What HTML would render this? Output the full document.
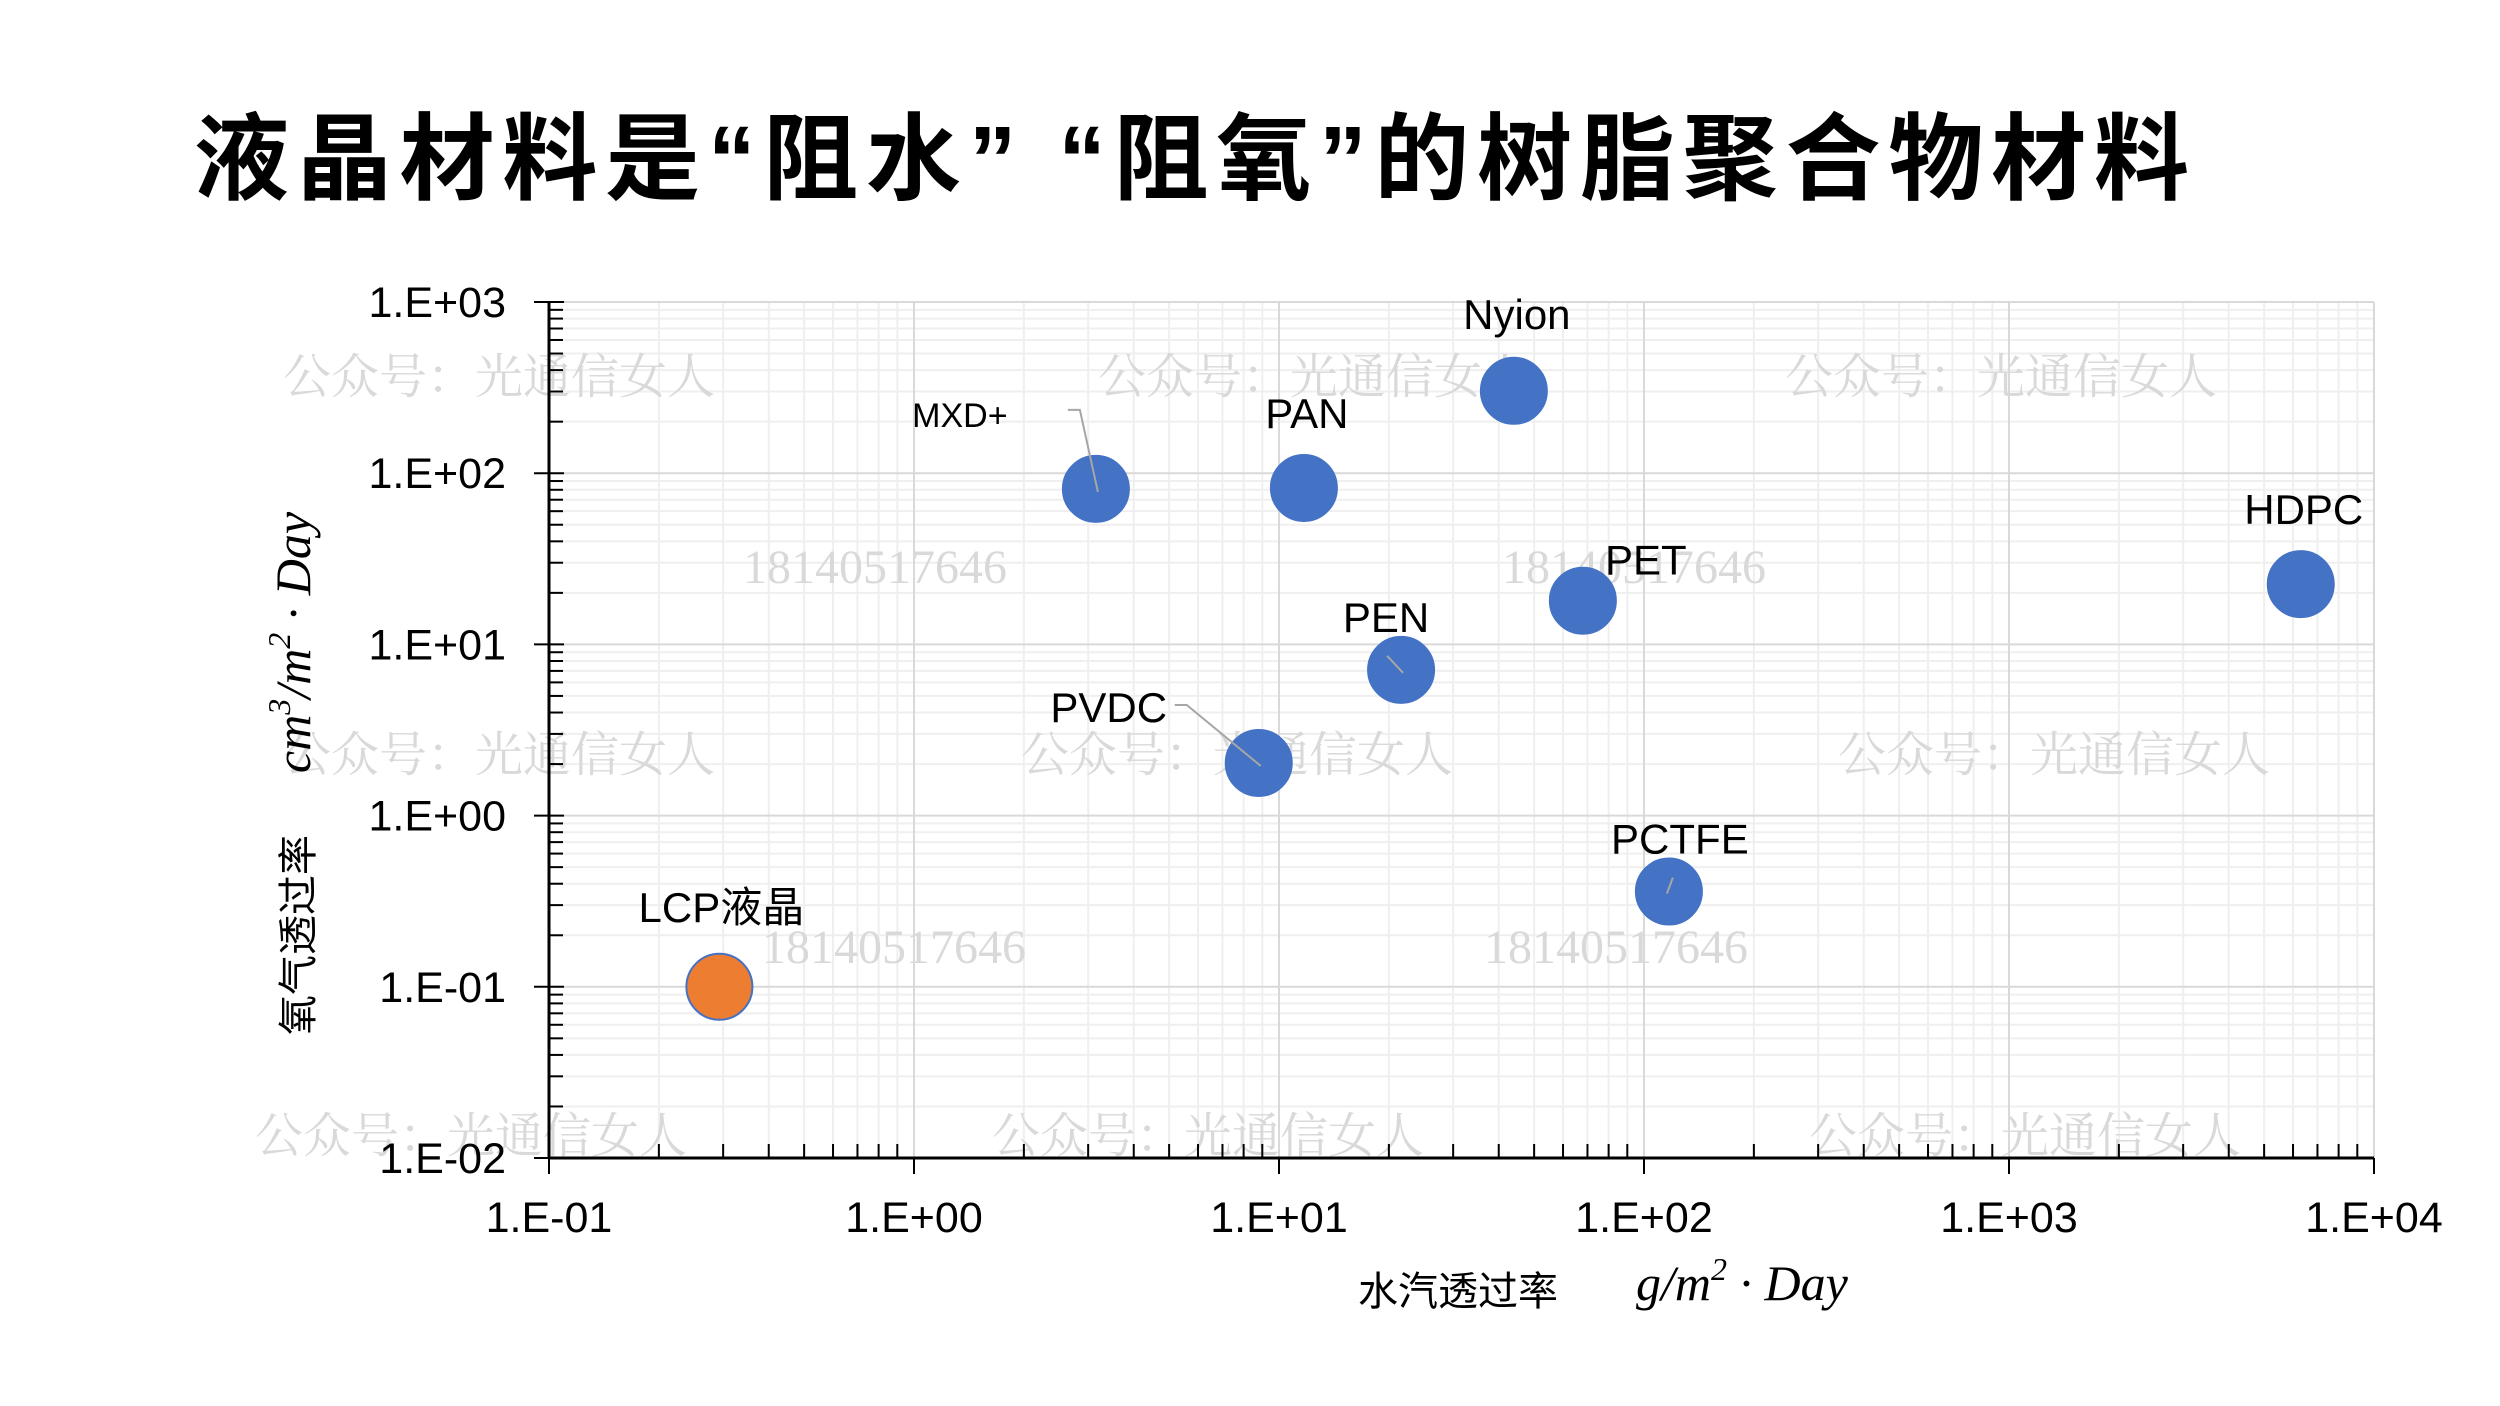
<!DOCTYPE html>
<html><head><meta charset="utf-8">
<style>
html,body{margin:0;padding:0;background:#fff;}
svg{display:block;}
</style></head>
<body>
<svg id="chart" width="2500" height="1406" viewBox="0 0 2500 1406" xmlns="http://www.w3.org/2000/svg">
<rect width="2500" height="1406" fill="#fff"/>
<text x="194" y="192" textLength="1995" lengthAdjust="spacing" font-family="'Liberation Sans','Noto Sans CJK SC',sans-serif" font-weight="bold" font-size="95" fill="#000">液晶材料是“阻水” “阻氧”的树脂聚合物材料</text>
<g id="grid"></g>
<g id="wm"></g>
<g id="axes"></g>
<g id="marks"></g>
<text x="1358" y="1305" font-family="'Liberation Sans','Noto Sans CJK SC',sans-serif" font-size="40" fill="#000">水汽透过率</text>
<text x="1636" y="1300" font-family="'Liberation Serif',serif" font-style="italic" font-size="50" fill="#000">g/m<tspan font-size="32" dy="-20">2</tspan><tspan dy="20"> · Day</tspan></text>
<g transform="translate(312,1035) rotate(-90)">
<text x="0" y="0" font-family="'Liberation Sans','Noto Sans CJK SC',sans-serif" font-size="40" fill="#000">氧气透过率</text>
<text x="262" y="-2" font-family="'Liberation Serif',serif" font-style="italic" font-size="50" fill="#000">cm<tspan font-size="32" dy="-20">3</tspan><tspan dy="20">/m</tspan><tspan font-size="32" dy="-20">2</tspan><tspan dy="20"> · Day</tspan></text>
</g>
</svg>
<script>
const names = ['Nyion','PAN','MXD+','HDPC','PET','PEN','PVDC','PCTFE','LCP液晶'];
const waterVals = [44, 11.7, 3.15, 6300, 68, 21.6, 8.8, 117, 0.293];
const oxygenVals = [303, 82, 81, 22.5, 18, 7.1, 2.03, 0.36, 0.1];
const xTickLabels = ['1.E-01','1.E+00','1.E+01','1.E+02','1.E+03','1.E+04'];
const yTickLabels = ['1.E-02','1.E-01','1.E+00','1.E+01','1.E+02','1.E+03'];

const NS='http://www.w3.org/2000/svg';
const X0=549,X1=2374,Y0=1158,Y1=302;
const xMinL=-1,xMaxL=4,yMinL=-2,yMaxL=3;
function xs(v){return X0+(Math.log10(v)-xMinL)/(xMaxL-xMinL)*(X1-X0);}
function ys(v){return Y0-(Math.log10(v)-yMinL)/(yMaxL-yMinL)*(Y0-Y1);}
function mk(tag,attrs,parent){const e=document.createElementNS(NS,tag);for(const k in attrs)e.setAttribute(k,attrs[k]);parent.appendChild(e);return e;}
const grid=document.getElementById('grid'),axes=document.getElementById('axes'),marks=document.getElementById('marks'),wm=document.getElementById('wm');

for(let d=xMinL;d<xMaxL;d++)for(let m=2;m<=9;m++){const x=xs(m*Math.pow(10,d));
 const l=mk('line',{x1:x,x2:x,y1:Y1,y2:Y0,stroke:'#efefef','stroke-width':2},grid);
 
 }
for(let d=yMinL;d<yMaxL;d++)for(let m=2;m<=9;m++){const y=ys(m*Math.pow(10,d));
 const l=mk('line',{x1:X0,x2:X1,y1:y,y2:y,stroke:'#efefef','stroke-width':2},grid);
 
 }
xTickLabels.forEach((t,i)=>{const x=xs(Math.pow(10,xMinL+i));
 const l=mk('line',{x1:x,x2:x,y1:Y1,y2:Y0,stroke:'#d9d9d9','stroke-width':2},grid);
 
 
 const tk=mk('line',{x1:x,x2:x,y1:Y0,y2:Y0+16,stroke:'#000','stroke-width':2},axes);
 
 
 const tx=mk('text',{x:x,y:1232,'text-anchor':'middle','font-family':"'Liberation Sans',sans-serif",'font-size':43,fill:'#000'},axes);
 tx.textContent=t;
 
 });
yTickLabels.forEach((t,i)=>{const y=ys(Math.pow(10,yMinL+i));
 const l=mk('line',{x1:X0,x2:X1,y1:y,y2:y,stroke:'#d9d9d9','stroke-width':2},grid);
 
 
 const tk=mk('line',{x1:X0-15,x2:X0+15,y1:y,y2:y,stroke:'#000','stroke-width':2},axes);
 
 
 const tx=mk('text',{x:506,y:y+15,'text-anchor':'end','font-family':"'Liberation Sans',sans-serif",'font-size':43,fill:'#000'},axes);
 tx.textContent=t;
 
 });
for(let d=xMinL;d<xMaxL;d++)for(let m=2;m<=9;m++){const x=xs(m*Math.pow(10,d));
 const tk=mk('line',{x1:x,x2:x,y1:Y0,y2:Y0-14,stroke:'#000','stroke-width':2},axes);
 
 }
for(let d=yMinL;d<yMaxL;d++)for(let m=2;m<=9;m++){const y=ys(m*Math.pow(10,d));
 const tk=mk('line',{x1:X0,x2:X0+14,y1:y,y2:y,stroke:'#000','stroke-width':2},axes);
 
 }
const ax=mk('line',{x1:X0,x2:X1,y1:Y0,y2:Y0,stroke:'#000','stroke-width':3},axes);


const ay=mk('line',{x1:X0,x2:X0,y1:Y1,y2:Y0,stroke:'#000','stroke-width':3},axes);



const wmText=[[283,377,'公众号：光通信女人'],[1098,377,'公众号：光通信女人'],[1785,377,'公众号：光通信女人'],[283,755,'公众号：光通信女人'],[1021,755,'公众号：光通信女人'],[1838,755,'公众号：光通信女人'],[255,1136,'公众号：光通信女人'],[992,1136,'公众号：光通信女人'],[1809,1136,'公众号：光通信女人'],[743,567,'18140517646'],[1502,567,'18140517646'],[762,947,'18140517646'],[1484,947,'18140517646']];
wmText.forEach(w=>{const t=mk('text',{x:w[0],y:w[1]+16,'font-family':"'Liberation Serif','Noto Serif CJK SC',serif",'font-size':48,fill:'#d9d9d9'},wm);
 t.textContent=w[2];
 
 });

const labelDx=[3,3,-136,3,63,-15,-150,11,2];
const labelDy=[-76,-74,-76,-74,-40,-52,-55,-52,-79];
names.forEach((n,i)=>{const cx=xs(waterVals[i]),cy=ys(oxygenVals[i]);
 const isLcp=i===names.length-1;
 const c=mk('circle',{cx:cx,cy:cy,r:33,fill:isLcp?'#ed7d31':'#4472c4',stroke:'#4472c4','stroke-width':2},marks);
 
 
 const t=mk('text',{x:cx+labelDx[i],y:cy+labelDy[i]+14,'text-anchor':'middle','font-family':"'Liberation Sans','Noto Sans CJK SC',sans-serif",'font-size':n==='MXD+'?34:42,fill:'#000'},marks);
 t.textContent=n;
 
 
});
function leader(i,pts){const cx=xs(waterVals[i]),cy=ys(oxygenVals[i]);
 const p=pts.map(q=>(cx+q[0])+','+(cy+q[1])).join(' ');
 const l=mk('polyline',{points:p,fill:'none',stroke:'#a6a6a6','stroke-width':2},marks);
 
 }
leader(2,[[-28,-79],[-16,-79],[2,3]]);
leader(6,[[-84,-58],[-72,-58],[2,3]]);
leader(5,[[-14,-14],[2,3]]);
leader(7,[[4,-14],[-2,2]]);
</script>
</body></html>
